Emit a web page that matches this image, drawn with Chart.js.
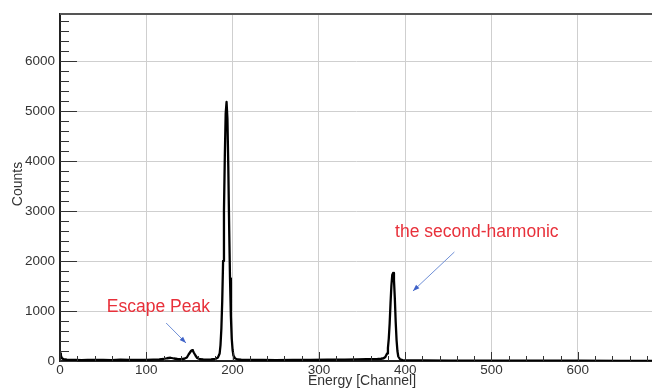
<!DOCTYPE html>
<html>
<head>
<meta charset="utf-8">
<style>
  html, body { margin: 0; padding: 0; background: #fff; }
  #wrap { width: 652px; height: 392px; }
</style>
</head>
<body>
<div id="wrap"><canvas id="myChart" width="652" height="392"></canvas></div>
<script src="https://cdn.jsdelivr.net/npm/chart.js@4.4.1/dist/chart.umd.min.js"></script>
<script>
  // spectrum: channel -> counts
  const channels = [
    0, 1, 2, 4, 8, 12, 18, 25, 32, 40, 50, 60, 70, 80, 90, 100, 108, 115, 120, 124, 128, 132, 136, 140,
    144, 147, 149, 151, 152, 153, 154, 155, 157, 159, 162, 166, 170, 175, 180, 183, 185,
    186, 187, 188, 189, 190, 191, 192, 193, 194, 195, 196, 197, 198, 199, 200, 201, 203, 206,
    210, 220, 235, 250, 270, 290, 310, 330, 345, 355, 362, 368, 372, 375, 377, 379,
    380, 381, 382, 383, 384, 385, 386, 387, 388, 389, 390, 391, 392, 394, 397,
    402, 420, 450, 500, 550, 600, 650, 686
  ];
  const counts = [
    150, 110, 60, 35, 25, 20, 22, 18, 24, 20, 22, 18, 25, 20, 24, 22, 26, 30, 40, 55, 65, 50, 40, 35,
    45, 70, 130, 180, 205, 215, 205, 170, 110, 60, 35, 30, 28, 30, 40, 70, 150,
    320, 650, 1200, 2000, 3000, 4100, 4950, 5180, 4850, 3900, 2700, 1650, 900, 450, 220, 110, 50, 30,
    25, 22, 20, 18, 20, 22, 25, 28, 32, 35, 38, 40, 45, 55, 80, 150,
    260, 450, 750, 1150, 1500, 1720, 1760, 1620, 1250, 780, 420, 200, 90, 35, 18,
    12, 10, 8, 6, 5, 5, 4, 4
  ];

  const xTicks = [0, 100, 200, 300, 400, 500, 600];
  const yTicks = [0, 1000, 2000, 3000, 4000, 5000, 6000];

  const escapeNote = { text: "Escape Peak", x: 114, y: 1080, from: [123, 760], to: [146, 360] };
  const harmonicNote = { text: "the second-harmonic", x: 483, y: 2580, from: [457, 2180], to: [409, 1400] };

  const points = channels.map((c, i) => ({ x: c, y: counts[i] }));

  // inner ticks, top frame line, axis titles and annotations
  const rootStyle = {
    id: "rootStyle",
    afterDatasetsDraw(chart) {
      const { ctx, chartArea: a, scales } = chart;
      const xs = scales.x, ys = scales.y;
      ctx.save();
      ctx.strokeStyle = "#333";
      ctx.lineWidth = 1;
      ctx.beginPath();
      for (let v = 0; v <= ys.max; v += 200) {
        const py = Math.round(ys.getPixelForValue(v)) + 0.5;
        const len = v % 1000 === 0 ? 17 : 9;
        ctx.moveTo(a.left, py);
        ctx.lineTo(a.left + len, py);
      }
      for (let v = 0; v <= xs.max; v += 20) {
        const px = Math.round(xs.getPixelForValue(v)) + 0.5;
        const len = v % 100 === 0 ? 9 : 5;
        ctx.moveTo(px, a.bottom);
        ctx.lineTo(px, a.bottom - len);
      }
      ctx.stroke();

      ctx.strokeStyle = "#555";
      ctx.lineWidth = 2;
      ctx.beginPath();
      ctx.moveTo(a.left, a.top);
      ctx.lineTo(a.right, a.top);
      ctx.stroke();

      ctx.fillStyle = "#333";
      ctx.font = "14px 'Liberation Sans', Arial, sans-serif";
      ctx.textAlign = "center";
      ctx.textBaseline = "middle";
      ctx.fillText("Energy [Channel]", 362, 381);
      ctx.save();
      ctx.translate(18, 184);
      ctx.rotate(-Math.PI / 2);
      ctx.fillText("Counts", 0, 0);
      ctx.restore();

      for (const n of [escapeNote, harmonicNote]) {
        ctx.fillStyle = "#e8303a";
        ctx.font = "17.5px 'Liberation Sans', Arial, sans-serif";
        ctx.fillText(n.text, xs.getPixelForValue(n.x), ys.getPixelForValue(n.y));
        const x1 = xs.getPixelForValue(n.from[0]), y1 = ys.getPixelForValue(n.from[1]);
        const x2 = xs.getPixelForValue(n.to[0]), y2 = ys.getPixelForValue(n.to[1]);
        ctx.strokeStyle = "#6f8fd6";
        ctx.lineWidth = 1;
        ctx.beginPath();
        ctx.moveTo(x1, y1);
        ctx.lineTo(x2, y2);
        ctx.stroke();
        const ang = Math.atan2(y2 - y1, x2 - x1);
        ctx.fillStyle = "#3f62c8";
        ctx.beginPath();
        ctx.moveTo(x2, y2);
        ctx.lineTo(x2 - 7 * Math.cos(ang - 0.35), y2 - 7 * Math.sin(ang - 0.35));
        ctx.lineTo(x2 - 7 * Math.cos(ang + 0.35), y2 - 7 * Math.sin(ang + 0.35));
        ctx.closePath();
        ctx.fill();
      }
      ctx.restore();
    }
  };

  const ctx = document.getElementById("myChart").getContext("2d");
  const myChart = new Chart(ctx, {
    type: "line",
    data: {
      datasets: [
        {
          data: points,
          borderColor: "#000",
          borderWidth: 2.3,
          borderJoinStyle: "round",
          borderCapStyle: "round",
          pointRadius: 0,
          tension: 0,
          fill: false,
        },
      ],
    },
    options: {
      responsive: false,
      animation: false,
      layout: { padding: { top: 14, right: 0, left: 0, bottom: 0 } },
      plugins: { legend: { display: false }, tooltip: { enabled: false } },
      scales: {
        x: {
          type: "linear",
          min: 0,
          max: 686,
          afterBuildTicks: (s) => { s.ticks = xTicks.map((v) => ({ value: v })); },
          afterFit: (s) => { s.height = 31; },
          grid: { color: "#cfcfcf", lineWidth: 1, drawTicks: false },
          border: { color: "#222", width: 2 },
          ticks: {
            padding: 1,
            color: "#333",
            font: { family: "'Liberation Sans', Arial, sans-serif", size: 13.5 },
            maxRotation: 0,
            callback: (v) => String(v),
          },
        },
        y: {
          type: "linear",
          min: 0,
          max: 6940,
          afterBuildTicks: (s) => { s.ticks = yTicks.map((v) => ({ value: v })); },
          afterFit: (s) => { s.width = 60; },
          grid: { color: "#cfcfcf", lineWidth: 1, drawTicks: false },
          border: { color: "#222", width: 2 },
          ticks: {
            padding: 5,
            color: "#333",
            font: { family: "'Liberation Sans', Arial, sans-serif", size: 13.5 },
            callback: (v) => String(v),
          },
        },
      },
    },
    plugins: [rootStyle],
  });
</script>
</body>
</html>
